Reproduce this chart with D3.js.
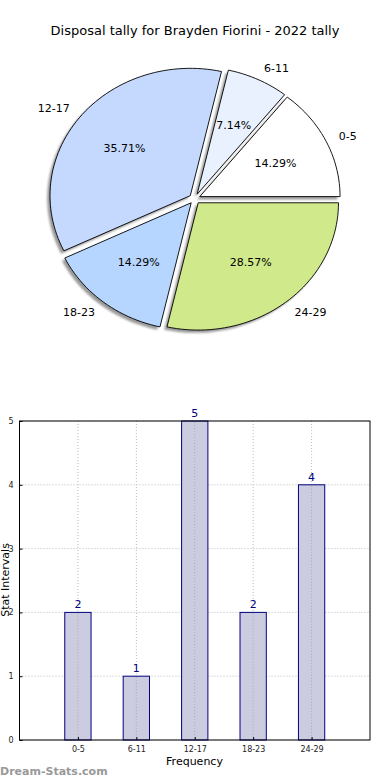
<!DOCTYPE html>
<html>
<head>
<meta charset="utf-8">
<script src="https://cdn.jsdelivr.net/npm/d3@7"></script>
<style>
  body { margin: 0; background: #fff; }
  text { font-family: "DejaVu Sans", sans-serif; }
</style>
</head>
<body>
<div id="chart"></div>
<script>
// data
var categories = ["0-5", "6-11", "12-17", "18-23", "24-29"];
var counts = [2, 1, 5, 2, 4];
var percentLabels = ["14.29%", "7.14%", "35.71%", "14.29%", "28.57%"];
var sliceColors = ["#ffffff", "#e9f1ff", "#c5d9ff", "#b6d6ff", "#cfe98b"];
var yTicks = [0, 1, 2, 3, 4, 5];

var svg = d3.select("#chart").append("svg")
    .attr("width", 390)
    .attr("height", 780);

var defs = svg.append("defs");
defs.append("filter").attr("id", "blur")
    .append("feGaussianBlur").attr("stdDeviation", 0.8);

// title
svg.append("text")
    .attr("x", 195)
    .attr("y", 35)
    .attr("text-anchor", "middle")
    .style("font-size", "13px")
    .text("Disposal tally for Brayden Fiorini - 2022 tally");

// ---- pie (matplotlib style, counterclockwise from east, slightly elliptical) ----
var cx = 194.7, cy = 198.8;
var rx = 140.3, ry = 127.3;
var explode = 0.04;

var pie = d3.pie().sort(null).value(d => d)(counts);

// angles from d3.pie used as degrees counterclockwise from east
function sliceShape(d, ox, oy) {
    var t1 = d.startAngle / (2 * Math.PI) * 360;
    var t2 = d.endAngle / (2 * Math.PI) * 360;
    var pts = [];
    var mid = (t1 + t2) / 2 * Math.PI / 180;
    var dx = explode * rx * Math.cos(mid);
    var dy = -explode * ry * Math.sin(mid);
    pts.push([cx + dx + ox, cy + dy + oy]);
    var n = Math.max(8, Math.ceil((t2 - t1) / 2));
    for (var i = 0; i <= n; i++) {
        var a = (t1 + (t2 - t1) * i / n) * Math.PI / 180;
        pts.push([cx + dx + ox + rx * Math.cos(a), cy + dy + oy - ry * Math.sin(a)]);
    }
    return "M" + pts.map(p => p[0].toFixed(2) + "," + p[1].toFixed(2)).join("L") + "Z";
}

var pieGroup = svg.append("g");

// shadows
pieGroup.selectAll(".shadow")
    .data(pie)
    .enter()
    .append("path")
    .attr("class", "shadow")
    .attr("d", d => sliceShape(d, -2.8, 2.8))
    .attr("fill", "#777")
    .attr("opacity", 0.75)
    .attr("filter", "url(#blur)");

pieGroup.selectAll(".slice")
    .data(pie)
    .enter()
    .append("path")
    .attr("class", "slice")
    .attr("d", d => sliceShape(d, 0, 0))
    .attr("fill", (d, i) => sliceColors[i])
    .attr("stroke", "#000")
    .attr("stroke-width", 0.9)
    .attr("stroke-linejoin", "round");

function midAngle(d) {
    return (d.startAngle + d.endAngle) / 2;
}

// category labels at 1.1 r
pieGroup.selectAll(".cat")
    .data(pie)
    .enter()
    .append("text")
    .attr("class", "cat")
    .attr("x", d => cx + (explode + 1.1) * rx * Math.cos(midAngle(d)))
    .attr("y", d => cy - (explode + 1.1) * ry * Math.sin(midAngle(d)))
    .attr("dy", "0.35em")
    .attr("text-anchor", d => Math.cos(midAngle(d)) > 0 ? "start" : "end")
    .style("font-size", "11px")
    .text((d, i) => categories[i]);

// percentage labels at 0.6 r
pieGroup.selectAll(".pct")
    .data(pie)
    .enter()
    .append("text")
    .attr("class", "pct")
    .attr("x", d => cx + (explode + 0.6) * rx * Math.cos(midAngle(d)))
    .attr("y", d => cy - (explode + 0.6) * ry * Math.sin(midAngle(d)))
    .attr("dy", "0.35em")
    .attr("text-anchor", "middle")
    .style("font-size", "11px")
    .text((d, i) => percentLabels[i]);

// ---- bar chart ----
var margin = { top: 421, left: 19.5 };
var plotWidth = 370 - margin.left;
var plotHeight = 740 - margin.top;

var chartGroup = svg.append("g")
    .attr("transform", `translate(${margin.left}, ${margin.top})`);

var xLinearScale = d3.scaleLinear()
    .domain([-1, 5])
    .range([0, plotWidth]);

var yLinearScale = d3.scaleLinear()
    .domain([0, 5])
    .range([plotHeight, 0]);

// grid
chartGroup.selectAll(".vgrid")
    .data(categories)
    .enter()
    .append("line")
    .attr("x1", (d, i) => xLinearScale(i))
    .attr("x2", (d, i) => xLinearScale(i))
    .attr("y1", 0)
    .attr("y2", plotHeight)
    .attr("stroke", "#bbb")
    .attr("stroke-width", 1)
    .attr("stroke-dasharray", "1,2");

chartGroup.selectAll(".hgrid")
    .data(yTicks)
    .enter()
    .append("line")
    .attr("x1", 0)
    .attr("x2", plotWidth)
    .attr("y1", d => yLinearScale(d))
    .attr("y2", d => yLinearScale(d))
    .attr("stroke", "#bbb")
    .attr("stroke-width", 1)
    .attr("stroke-dasharray", "1,2");

var barWidth = xLinearScale(0.45) - xLinearScale(0);

chartGroup.selectAll("rect.bar")
    .data(counts)
    .enter()
    .append("rect")
    .attr("class", "bar")
    .attr("x", (d, i) => xLinearScale(i) - barWidth / 2)
    .attr("y", d => yLinearScale(d))
    .attr("width", barWidth)
    .attr("height", d => plotHeight - yLinearScale(d))
    .attr("fill", "#cccce0")
    .attr("stroke", "#000080")
    .attr("stroke-width", 1);

// grid drawn over bars too
chartGroup.selectAll(".vgrid2")
    .data(categories)
    .enter()
    .append("line")
    .attr("x1", (d, i) => xLinearScale(i))
    .attr("x2", (d, i) => xLinearScale(i))
    .attr("y1", (d, i) => yLinearScale(counts[i]) + 1)
    .attr("y2", plotHeight)
    .attr("stroke", "#aaa")
    .attr("stroke-width", 1)
    .attr("stroke-dasharray", "1,2");

chartGroup.selectAll(".val")
    .data(counts)
    .enter()
    .append("text")
    .attr("x", (d, i) => xLinearScale(i))
    .attr("y", d => yLinearScale(d) - 4)
    .attr("text-anchor", "middle")
    .attr("fill", "#000080")
    .style("font-size", "11px")
    .text(d => d);

// frame
chartGroup.append("rect")
    .attr("width", plotWidth)
    .attr("height", plotHeight)
    .attr("fill", "none")
    .attr("stroke", "#000")
    .attr("stroke-width", 1);

// axes
var bottomAxis = d3.axisBottom(xLinearScale)
    .tickValues(d3.range(categories.length))
    .tickFormat(i => categories[i])
    .tickSize(3)
    .tickPadding(3);

var leftAxis = d3.axisLeft(yLinearScale)
    .tickValues(yTicks)
    .tickFormat(d3.format("d"))
    .tickSize(3)
    .tickPadding(3);

var xAxis = chartGroup.append("g")
    .attr("transform", `translate(0, ${plotHeight})`)
    .call(bottomAxis);
xAxis.select(".domain").remove();
xAxis.selectAll(".tick line").attr("y2", -3).attr("stroke", "#000");
xAxis.selectAll("text").style("font-size", "8px").attr("fill", "#222");

var yAxis = chartGroup.append("g")
    .call(leftAxis);
yAxis.select(".domain").remove();
yAxis.selectAll(".tick line").attr("x2", 3).attr("stroke", "#000");
yAxis.selectAll("text").style("font-size", "8px").attr("fill", "#222");

// axis labels
svg.append("text")
    .attr("x", 194.5)
    .attr("y", 765)
    .attr("text-anchor", "middle")
    .style("font-size", "11px")
    .text("Frequency");

svg.append("text")
    .attr("transform", "rotate(-90)")
    .attr("x", -580)
    .attr("y", 9)
    .attr("text-anchor", "middle")
    .style("font-size", "11px")
    .text("Stat Intervals");

// watermark
svg.append("text")
    .attr("x", 0)
    .attr("y", 775)
    .attr("fill", "#999")
    .style("font-size", "11px")
    .style("font-weight", "bold")
    .text("Dream-Stats.com");
</script>
</body>
</html>
